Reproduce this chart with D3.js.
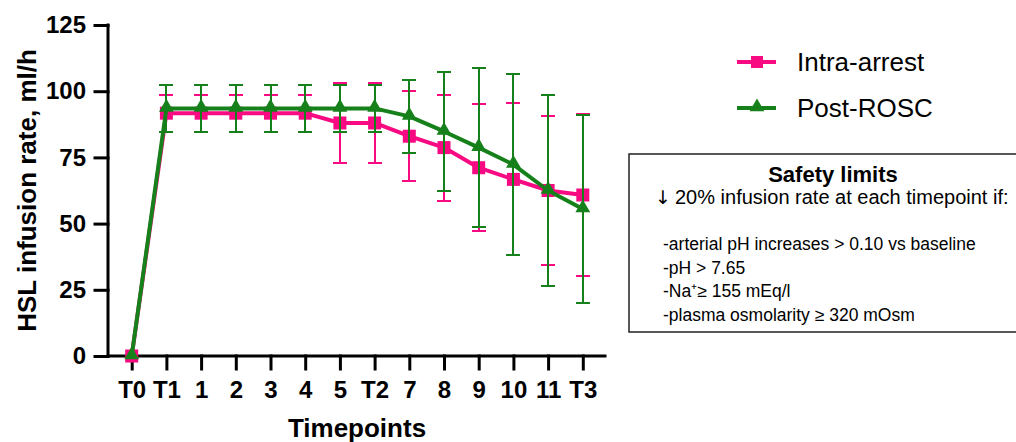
<!DOCTYPE html>
<html>
<head>
<meta charset="utf-8">
<script src="https://cdn.jsdelivr.net/npm/d3@7"></script>
<style>
  body { margin: 0; background: #fff; }
  svg { display: block; font-family: "Liberation Sans", Arial, sans-serif; }
</style>
</head>
<body>
<div id="chart"></div>
<script>
// timepoints on the x axis
const timepoints = ["T0", "T1", "1", "2", "3", "4", "5", "T2", "7", "8", "9", "10", "11", "T3"];

// Intra-arrest: mean and SD
const intraMean = [0, 91.7, 91.7, 91.7, 91.7, 91.7, 88, 88, 83, 78.7, 71.1, 66.7, 62.5, 60.8];
const intraSD   = [0, 7, 7, 7, 7, 7, 15.2, 15.2, 17, 20, 23.9, 28.7, 28.3, 30.6];

// Post-ROSC: mean and SD
const postMean = [0, 93.5, 93.5, 93.5, 93.5, 93.5, 93.5, 93.5, 90.5, 84.8, 78.7, 72.3, 62.5, 55.5];
const postSD   = [0, 9, 9, 9, 9, 9, 9, 9, 13.7, 22.6, 30, 34.2, 36.2, 35.5];

const yTicks = [0, 25, 50, 75, 100, 125];

const safetyLines = [
  "-arterial pH increases > 0.10 vs baseline",
  "-pH > 7.65",
  "-Na\u207A\u2265 155 mEq/l",
  "-plasma osmolarity \u2265 320 mOsm"
];

const pink = "#f70a82", green = "#16801a";
const width = 1016, height = 442;

const svg = d3.select("#chart").append("svg")
  .attr("width", width).attr("height", height);

const x = d3.scalePoint().domain(timepoints).range([131.7, 582.8]);
const y = d3.scaleLinear().domain([0, 125]).range([356, 25]);
const xr = t => Math.round(x(t));

// axes
const yAxis = svg.append("g")
  .attr("transform", "translate(108,0)")
  .call(d3.axisLeft(y).tickValues(yTicks).tickSize(13).tickPadding(9));
yAxis.select(".domain").attr("d", `M0,${y(125)}V${y(0)}`);

const xAxis = svg.append("g")
  .attr("transform", `translate(0,${y(0)})`)
  .call(d3.axisBottom(x).tickSize(13).tickPadding(12));
xAxis.select(".domain").attr("d", "M108,0H605");

svg.selectAll(".domain, .tick line")
  .attr("stroke", "#000").attr("stroke-width", 3).attr("stroke-linecap", "square");
svg.selectAll(".tick text")
  .attr("fill", "#000").style("font-size", "24px").style("font-weight", "bold");

// axis titles
svg.append("text")
  .attr("x", 357).attr("y", 437)
  .attr("text-anchor", "middle")
  .style("font-size", "26px").style("font-weight", "bold")
  .text("Timepoints");

svg.append("text")
  .attr("transform", `translate(36,${(y(0) + y(125)) / 2}) rotate(-90)`)
  .attr("text-anchor", "middle")
  .style("font-size", "26px").style("font-weight", "bold")
  .text("HSL infusion rate, ml/h");

const line = d3.line().x((d, i) => x(timepoints[i])).y(d => y(d));
const triangle = d3.symbol().type(d3.symbolTriangle).size(95);

function drawSeries(means, sds, color, marker) {
  const g = svg.append("g");
  const pts = means.map((m, i) => ({ t: timepoints[i], m, sd: sds[i] }));

  // error bars
  const eb = g.selectAll(".eb").data(pts.filter(d => d.sd > 0)).join("g")
    .attr("stroke", color).attr("stroke-width", 2);
  eb.append("line")
    .attr("x1", d => xr(d.t)).attr("x2", d => xr(d.t))
    .attr("y1", d => y(d.m + d.sd)).attr("y2", d => y(d.m - d.sd));
  [1, -1].forEach(s => {
    eb.append("line")
      .attr("x1", d => xr(d.t) - 7).attr("x2", d => xr(d.t) + 7)
      .attr("y1", d => Math.round(y(d.m + s * d.sd))).attr("y2", d => Math.round(y(d.m + s * d.sd)));
  });

  g.append("path").datum(means)
    .attr("d", line).attr("fill", "none")
    .attr("stroke", color).attr("stroke-width", 4).attr("stroke-linejoin", "round");

  if (marker === "square") {
    g.selectAll(".mk").data(pts).join("rect")
      .attr("x", d => x(d.t) - 6.5).attr("y", d => y(d.m) - 6.5)
      .attr("width", 13).attr("height", 13).attr("fill", color);
  } else {
    g.selectAll(".mk").data(pts).join("path")
      .attr("d", triangle)
      .attr("transform", d => `translate(${x(d.t)},${y(d.m) - 1})`)
      .attr("fill", color);
  }
}

drawSeries(intraMean, intraSD, pink, "square");
drawSeries(postMean, postSD, green, "triangle");

// legend
const legend = [
  { name: "Intra-arrest", color: pink, marker: "square", y: 62 },
  { name: "Post-ROSC", color: green, marker: "triangle", y: 108 }
];
legend.forEach(l => {
  svg.append("line")
    .attr("x1", 737).attr("x2", 776).attr("y1", l.y).attr("y2", l.y)
    .attr("stroke", l.color).attr("stroke-width", 4);
  if (l.marker === "square") {
    svg.append("rect").attr("x", 751).attr("y", l.y - 6).attr("width", 12).attr("height", 12)
      .attr("fill", l.color);
  } else {
    svg.append("path").attr("d", triangle)
      .attr("transform", `translate(757,${l.y - 1})`).attr("fill", l.color);
  }
  svg.append("text")
    .attr("x", 797).attr("y", l.y + 9)
    .style("font-size", "26px")
    .text(l.name);
});

// safety limits box
svg.append("rect")
  .attr("x", 629).attr("y", 154).attr("width", 410).attr("height", 178)
  .attr("fill", "none").attr("stroke", "#222").attr("stroke-width", 1.5);

svg.append("text")
  .attr("x", 833).attr("y", 182)
  .attr("text-anchor", "middle")
  .style("font-size", "22px").style("font-weight", "bold")
  .text("Safety limits");

const sub = svg.append("text")
  .attr("y", 204)
  .style("font-size", "20px");
sub.append("tspan").attr("x", 655).style("font-family", "DejaVu Sans").style("font-size", "19px").text("\u2193");
sub.append("tspan").attr("x", 675).text("20% infusion rate at each timepoint if:");

svg.selectAll(".sl").data(safetyLines).join("text")
  .attr("x", 663).attr("y", (d, i) => 250 + i * 23.5)
  .style("font-size", "17.5px")
  .text(d => d);
</script>
</body>
</html>
